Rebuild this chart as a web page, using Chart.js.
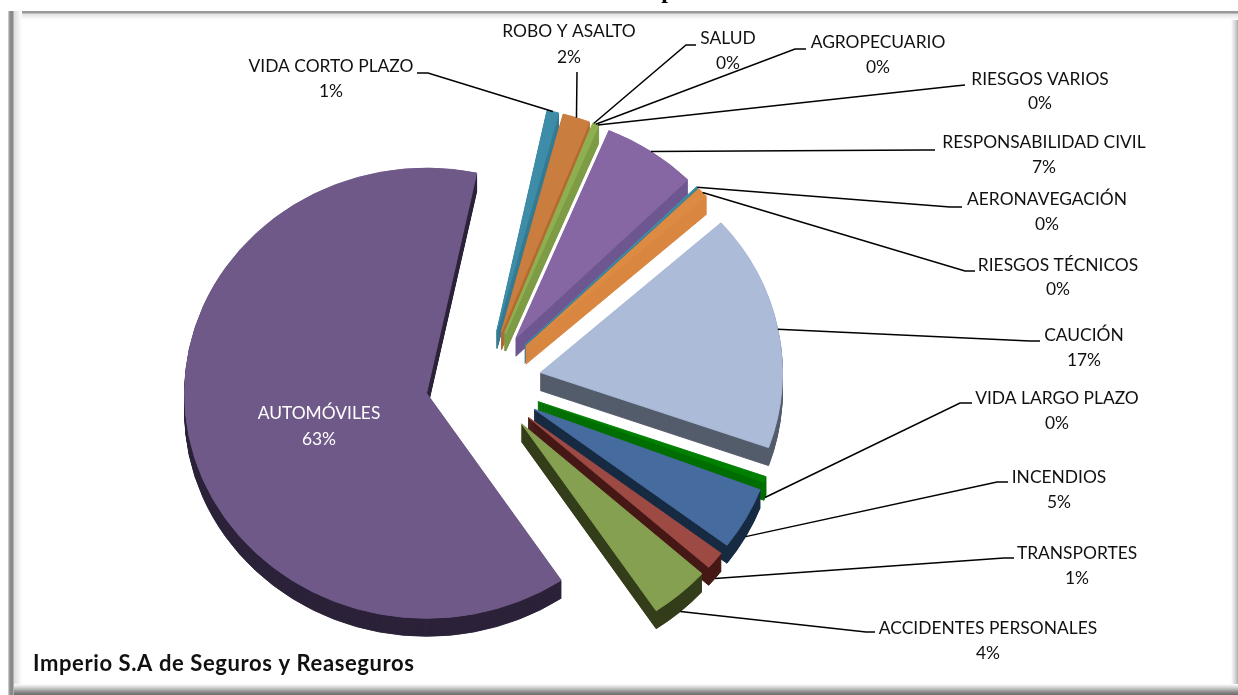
<!DOCTYPE html>
<html lang="es">
<head>
<meta charset="utf-8">
<title>Imperio S.A de Seguros y Reaseguros</title>
<script src="https://cdn.jsdelivr.net/npm/chart.js@4/dist/chart.umd.min.js"></script>
<style>
    html, body { margin: 0; padding: 0; background: #fff; overflow: hidden; }
    #wrap { position: relative; width: 1238px; height: 695px; overflow: hidden; }
    #wrap div { position: absolute; }
    .top { left: 10px; right: 0; top: 11px; height: 9px;
        background: linear-gradient(#999 0, #999 2px, #e2e2e2 3px, #fff 9px); }
    .left { left: 8px; top: 11px; bottom: 0; width: 14px;
        background: linear-gradient(90deg, #ddd 0, #8a8a8a 2px, #8a8a8a 5px, #dcdcdc 6px, #fff 14px); }
    .right { right: 0; top: 20px; bottom: 0; width: 7px;
        background: linear-gradient(90deg, #fff 0, #ccc 5px, #aaa 7px); }
    .bottom { left: 14px; right: 0; bottom: 0; height: 11px;
        background: linear-gradient(#fff 0, #ccc 4px, #8a8a8a 8px, #6a6a6a 11px); }
    canvas { position: absolute; left: 0; top: 0; }
</style>
</head>
<body>
<div id="wrap">
    <div class="top"></div>
    <div class="left"></div>
    <div class="right"></div>
    <div class="bottom"></div>
    <canvas id="chart" width="1238" height="695"></canvas>
</div>
<script>
// (slice sizes are visual estimates, labels are as printed)
const categories = ['AUTOMÓVILES', 'VIDA CORTO PLAZO', 'ROBO Y ASALTO', 'SALUD', 'AGROPECUARIO', 'RIESGOS VARIOS',
    'RESPONSABILIDAD CIVIL', 'AERONAVEGACIÓN', 'RIESGOS TÉCNICOS', 'CAUCIÓN', 'VIDA LARGO PLAZO', 'INCENDIOS',
    'TRANSPORTES', 'ACCIDENTES PERSONALES'];
const values = [62.7, 0.78, 1.82, 0.12, 0.12, 0.12, 6.28, 0.1, 0.74, 17, 0.42, 4.5, 1.28, 4];
const percentLabels = ['63%', '1%', '2%', '0%', '0%', '0%', '7%', '0%', '0%', '17%', '0%', '5%', '1%', '4%'];
const footer = 'Imperio S.A de Seguros y Reaseguros';

const topColors = ['#6F5988', '#3E8DA8', '#C97D3E', '#8FB050', '#8FB050', '#8FB050', '#8666A3', '#3E8DA8', '#DD8A42',
    '#ABBBD8', '#008000', '#466B9F', '#9E4A44', '#85A050'];
const wallColors = ['#2C2239', '#357A92', '#B36B32', '#7E9C46', '#7E9C46', '#7E9C46', '#6E5790', '#357A92', '#D98740',
    '#545C6B', '#006E00', '#172A42', '#451916', '#343D1A'];

// Label anchor: centre x, first line y, second line y, then the elbow of its leader line
const labelSpots = [
    { x: 319, y1: 413, y2: 439 },
    { x: 331, y1: 66, y2: 91, from: [417, 73], elbow: [428, 73] },
    { x: 569, y1: 31, y2: 57, from: [577, 72], elbow: [577, 72] },
    { x: 728, y1: 38, y2: 63, from: [696, 45], elbow: [686, 45] },
    { x: 878, y1: 42, y2: 67, from: [806, 49], elbow: [795, 49] },
    { x: 1040, y1: 79, y2: 103, from: [965, 85], elbow: [955, 86] },
    { x: 1044, y1: 142, y2: 167, from: [935, 150], elbow: [925, 150] },
    { x: 1047, y1: 199, y2: 224, from: [962, 207], elbow: [950, 207] },
    { x: 1058, y1: 265, y2: 289, from: [975, 271], elbow: [965, 271] },
    { x: 1084, y1: 335, y2: 360, from: [1040, 341], elbow: [1030, 341] },
    { x: 1057, y1: 398, y2: 423, from: [972, 403], elbow: [960, 403] },
    { x: 1059, y1: 477, y2: 502, from: [1008, 482], elbow: [997, 482] },
    { x: 1077, y1: 553, y2: 578, from: [1014, 558], elbow: [1004, 558] },
    { x: 988, y1: 628, y2: 653, from: [875, 632], elbow: [866, 632] }
];

const TILT = 0.93;      // flattening of the pie
const DEPTH = 18;       // height of the side wall
const EXPLODE = 58;     // how far every slice is pulled out of the centre
const LABEL_FONT = '17.4px Lato, sans-serif';

// Tilt the drawing, then pull the slice out along its middle angle
function placeSlice(ctx, arc) {
    const mid = (arc.startAngle + arc.endAngle) / 2;
    ctx.translate(arc.x, arc.y);
    ctx.scale(1, TILT);
    ctx.translate(-arc.x, -arc.y);
    ctx.translate(Math.cos(mid) * EXPLODE, Math.sin(mid) * EXPLODE);
}

const pie3d = {
    id: 'pie3d',
    // We paint the slices ourselves because Chart.js trims them when offset is set
    beforeDatasetDraw(chart) {
        const ctx = chart.ctx;
        const arcs = chart.getDatasetMeta(0).data;

        // side walls, stacked downwards from each slice
        arcs.forEach((arc, i) => {
            ctx.fillStyle = wallColors[i];
            ctx.strokeStyle = wallColors[i];
            ctx.lineWidth = 1;
            for (let d = DEPTH; d > 0; d--) {
                ctx.save();
                ctx.translate(0, d);
                placeSlice(ctx, arc);
                ctx.beginPath();
                ctx.moveTo(arc.x, arc.y);
                ctx.arc(arc.x, arc.y, arc.outerRadius, arc.startAngle, arc.endAngle);
                ctx.closePath();
                ctx.fill();
                ctx.stroke();
                ctx.restore();
            }
        });

        // top faces
        arcs.forEach(arc => {
            ctx.save();
            placeSlice(ctx, arc);
            arc.draw(ctx);
            ctx.restore();
        });
        return false;
    },
    afterDatasetsDraw(chart) {
        const ctx = chart.ctx;
        const arcs = chart.getDatasetMeta(0).data;
        ctx.textAlign = 'center';
        ctx.textBaseline = 'middle';
        ctx.font = LABEL_FONT;

        arcs.forEach((arc, i) => {
            const spot = labelSpots[i];

            if (spot.from) {
                // leader line ends on the rim of the slice, at its middle angle
                const mid = (arc.startAngle + arc.endAngle) / 2;
                const reach = arc.outerRadius + EXPLODE;
                const endX = arc.x + Math.cos(mid) * reach;
                const endY = arc.y + Math.sin(mid) * reach * TILT + (Math.sin(mid) > 0 ? DEPTH : 0);
                ctx.strokeStyle = '#000';
                ctx.lineWidth = 1.5;
                ctx.beginPath();
                ctx.moveTo(spot.from[0], spot.from[1]);
                ctx.lineTo(spot.elbow[0], spot.elbow[1]);
                ctx.lineTo(endX, endY);
                ctx.stroke();
            }

            ctx.fillStyle = i === 0 ? '#fff' : '#111';
            ctx.fillText(categories[i], spot.x, spot.y1);
            ctx.fillText(percentLabels[i], spot.x, spot.y2);
        });

        // Company name in the corner
        ctx.textAlign = 'left';
        ctx.fillStyle = '#111';
        ctx.font = 'bold 22px Lato, sans-serif';
        ctx.letterSpacing = '0.6px';
        ctx.fillText(footer, 33, 664);
        ctx.letterSpacing = '0px';

        // Only the tail of the cut off title is left on the picture
        ctx.textAlign = 'center';
        ctx.textBaseline = 'alphabetic';
        ctx.fillStyle = '#000';
        ctx.font = 'bold 24px "Liberation Serif", serif';
        ctx.fillText('p', 668, -2);
    }
};

new Chart(document.getElementById('chart'), {
    type: 'pie',
    data: {
        labels: categories,
        datasets: [{
            data: values,
            backgroundColor: topColors,
            borderColor: topColors,
            borderWidth: 1,
            radius: 242,
            clip: false
        }]
    },
    options: {
        responsive: false,
        animation: false,
        rotation: 146.2,
        // moves the pie centre left and down of the canvas middle
        layout: { padding: { right: 271, top: 71 } },
        plugins: {
            legend: { display: false },
            tooltip: { enabled: false }
        }
    },
    plugins: [pie3d]
});
</script>
</body>
</html>
